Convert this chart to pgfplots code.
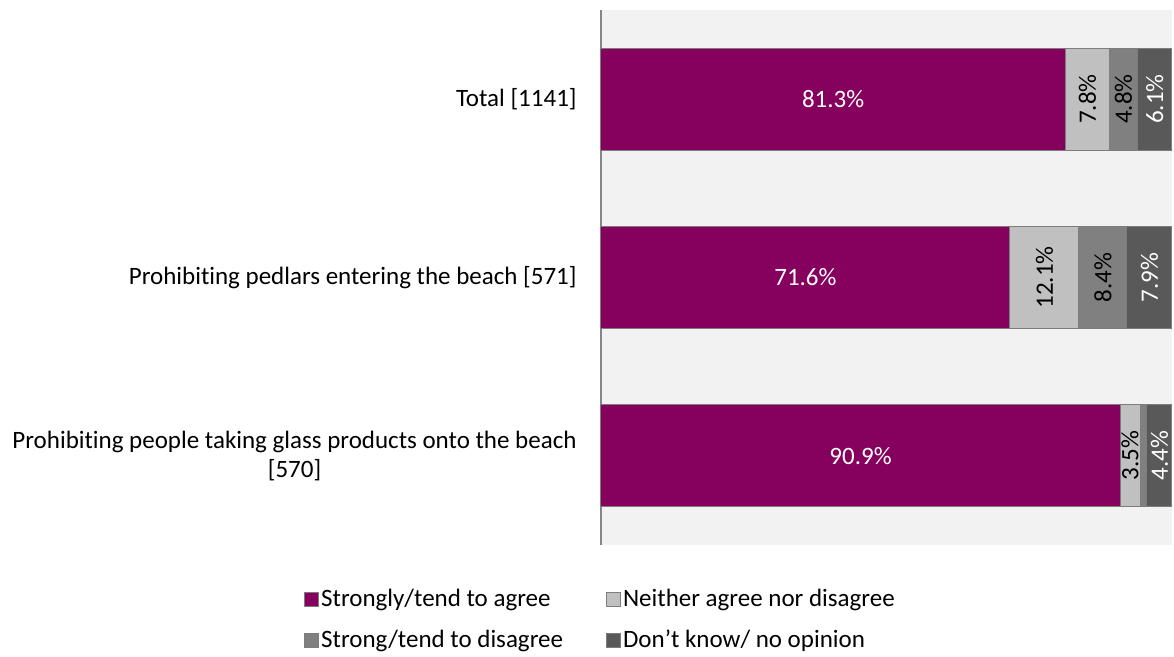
\documentclass[border=0pt]{standalone}
\usepackage{fontspec}
\setmainfont{Carlito}[Ligatures={NoCommon}]
\usepackage{pgfplots}
\pgfplotsset{compat=1.18}

\definecolor{cagree}{RGB}{134,0,94}
\definecolor{clight}{RGB}{192,192,192}
\definecolor{cmid}{RGB}{128,128,128}
\definecolor{cdark}{RGB}{89,89,89}
\definecolor{cborder}{RGB}{125,125,125}
\definecolor{caxis}{RGB}{134,134,134}
\definecolor{cbg}{RGB}{242,242,242}

\pgfplotsset{
  common/.style={
    scale only axis, width=285.5pt, height=267.5pt,
    at={(300.5pt,56pt)}, anchor=south west,
    xmin=0, xmax=100, ymin=-0.5, ymax=2.5,
  },
  seg/.style={fill=#1, draw=cborder, line width=0.5pt},
  lab/.style={draw=none, mark=none, forget plot, nodes near coords,
    point meta=explicit symbolic,
    every node near coord/.style={anchor=center, inner sep=0pt, #1}},
}

\begin{document}
\fontsize{12.5}{14.2}\selectfont
\begin{tikzpicture}
\path[use as bounding box] (0,0) rectangle (587pt,328.5pt);

\begin{axis}[common,
  xbar stacked, bar width=51pt,
  axis x line=none, axis y line*=left,
  y axis line style={caxis, line width=0.6pt, -},
  axis background/.style={fill=cbg},
  ytick={0,1,2}, ytick style={draw=none},
  yticklabels={{Prohibiting people taking glass products onto the beach\\{[570]}},
    {Prohibiting pedlars entering the beach [571]}, {Total [1141]}},
  yticklabel style={align=center, inner sep=0pt, xshift=-12pt},
  legend columns=2, legend cell align=left,
  legend style={draw=none, fill=none, at={(rel axis cs:-0.531,-0.07)}, anchor=north west,
    /tikz/every even column/.append style={column sep=20.5pt},
    row sep=8pt,
    nodes={inner sep=1pt}},
  legend image code/.code={\draw[#1, draw=cborder, line width=0.5pt] (0pt,-3.5pt) rectangle (7pt,3.5pt);},
]
\addplot[seg=cagree] coordinates {(90.9,0) (71.6,1) (81.3,2)};
\addplot[seg=clight] coordinates {(3.5,0) (12.1,1) (7.8,2)};
\addplot[seg=cmid] coordinates {(1.2,0) (8.4,1) (4.8,2)};
\addplot[seg=cdark] coordinates {(4.4,0) (7.9,1) (6.1,2)};
\legend{Strongly/tend to agree, Neither agree nor disagree,
  Strong/tend to disagree, Don't know/ no opinion}
\end{axis}

\begin{axis}[common, hide axis, clip=false]
\addplot[lab={text=white}] coordinates {(45.45,0)[90.9\%] (35.8,1)[71.6\%] (40.65,2)[81.3\%]};
\addplot[lab={text=black, rotate=90}] coordinates {(92.65,0)[3.5\%] (77.65,1)[12.1\%] (85.2,2)[7.8\%]
  (87.9,1)[8.4\%] (91.5,2)[4.8\%]};
\addplot[lab={text=white, rotate=90}] coordinates {(97.8,0)[4.4\%] (96.05,1)[7.9\%] (96.95,2)[6.1\%]};
\end{axis}
\end{tikzpicture}
\end{document}
